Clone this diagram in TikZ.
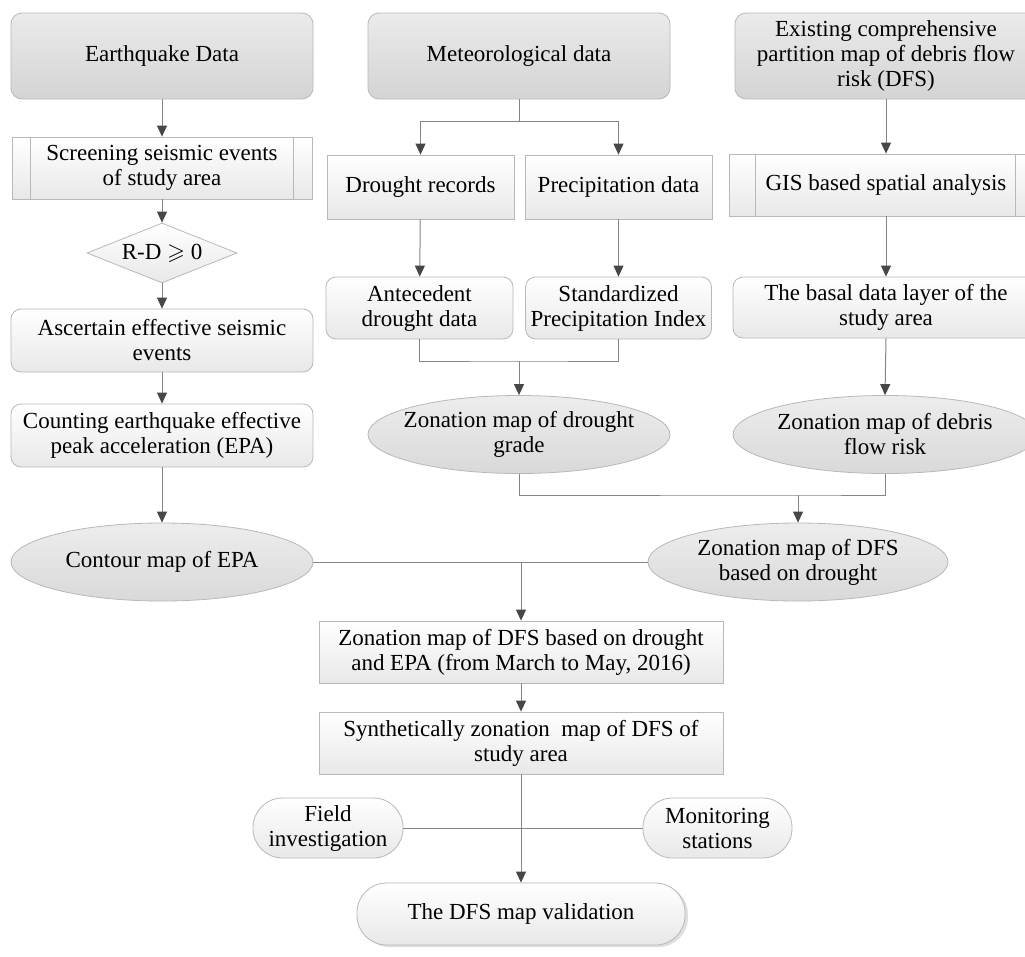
\documentclass[tikz,border=0pt]{standalone}
\usepackage{amsmath, amssymb}
\usepackage{fontspec}
\setmainfont{Liberation Serif}
\usetikzlibrary{arrows.meta, shapes.geometric, shadows}

\begin{document}
\begin{tikzpicture}[x=1pt, y=-1pt,
		every node/.style={font=\fontsize{23}{25}\selectfont, align=center, inner sep=0pt},
		darkbox/.style={draw=black!28, line width=0.8pt, rounded corners=11pt, top color=black!8, bottom color=black!17, minimum width=302pt, minimum height=86pt},
		softbox/.style={draw=black!28, line width=0.8pt, rounded corners=10pt, top color=white, bottom color=black!9, minimum width=302pt, minimum height=63pt},
		plainbox/.style={draw=black!28, line width=0.8pt, top color=white, bottom color=black!9, minimum width=187pt, minimum height=64pt},
		procbox/.style={plainbox, minimum height=62pt},
		decision/.style={diamond, aspect=2.5, draw=black!28, line width=0.8pt, top color=white, bottom color=black!9, minimum width=150pt, minimum height=60pt},
		mapoval/.style={ellipse, draw=black!28, line width=0.8pt, inner xsep=-40pt, top color=black!7, bottom color=black!15, minimum width=302pt, minimum height=78pt},
		pill/.style={draw=black!28, line width=0.8pt, rounded corners=29.5pt, top color=white, bottom color=black!9, minimum height=60pt},
		link/.style={draw=black!48, line width=1pt},
		flow/.style={link, -{Triangle[width=10pt,length=11pt,color=black!72]}}
	]
		% Page
		\useasboundingbox (0,0) rectangle (1025,956);
		\clip (0,0) rectangle (1025,956);
		\fill[white] (0,0) rectangle (1025,956);

		% Earthquake column
		\node[darkbox] (quake) at (162,56) {Earthquake Data};
		\node[procbox, minimum width=300pt] (screen) at (162,168) {Screening seismic events\\of study area};
		\node[decision] (rd) at (162,253) {R-D $\geqslant$ 0};
		\node[softbox] (ascertain) at (162,340.5) {Ascertain effective seismic\\events};
		\node[softbox] (counting) at (162,435.5) {Counting earthquake effective\\peak acceleration (EPA)};
		\node[mapoval] (contour) at (162,562) {Contour map of EPA};

		% Meteorological column
		\node[darkbox] (meteo) at (519,56) {Meteorological data};
		\node[plainbox] (records) at (420.5,187) {Drought records};
		\node[plainbox] (precip) at (618.5,187) {Precipitation data};
		\node[softbox, minimum width=187pt, minimum height=62pt] (antecedent) at (419.5,308) {Antecedent\\drought data};
		\node[softbox, minimum width=186pt, minimum height=62pt] (spi) at (618.5,308) {Standardized\\Precipitation Index};
		\node[mapoval] (grade) at (519,434.5) {Zonation map of drought\\grade};

		% Debris flow column
		\node[darkbox] (existing) at (886,56) {Existing comprehensive\\partition map of debris flow\\risk (DFS)};
		\node[procbox, minimum width=314pt] (gis) at (886,185) {GIS based spatial analysis};
		\node[softbox, minimum width=306pt, minimum height=61pt] (basal) at (886,307.5) {The basal data layer of the\\study area};
		\node[mapoval, minimum width=304pt] (debris) at (885,434.5) {Zonation map of debris\\flow risk};
		\node[mapoval, minimum width=300pt] (dfsdrought) at (798,562) {Zonation map of DFS\\based on drought};

		% Merged maps and validation
		\node[plainbox, minimum width=404pt, minimum height=62pt] (combined) at (521,652) {Zonation map of DFS based on drought\\and EPA (from March to May, 2016)};
		\node[plainbox, minimum width=404pt, minimum height=62pt] (synthetic) at (521,743) {Synthetically zonation\ \ map of DFS of\\study area};
		\node[pill, minimum width=150pt] (field) at (328,828) {Field\\investigation};
		\node[pill, minimum width=149pt] (monitor) at (717.5,828) {Monitoring\\stations};
		\node[pill, minimum width=328pt, minimum height=62pt, drop shadow={shadow xshift=3pt, shadow yshift=-2pt, opacity=0.25}] (validation) at (521,914) {The DFS map validation};

		% Predefined process bars
		\draw[draw=black!28, line width=0.8pt] ([xshift=19pt]screen.north west) -- ([xshift=19pt]screen.south west);
		\draw[draw=black!28, line width=0.8pt] ([xshift=-19pt]screen.north east) -- ([xshift=-19pt]screen.south east);
		\draw[draw=black!28, line width=0.8pt] ([xshift=27pt]gis.north west) -- ([xshift=27pt]gis.south west);
		\draw[draw=black!28, line width=0.8pt] ([xshift=-28pt]gis.north east) -- ([xshift=-28pt]gis.south east);

		% Junctions
		\coordinate (meteojoin) at (519,121);
		\coordinate (gradejoin) at (519,361);
		\coordinate (dfsjoin) at (798,495);
		\coordinate (epajoin) at (521,562);

		% Earthquake connectors
		\draw[flow] (quake) -- (screen);
		\draw[flow] (screen) -- (rd);
		\draw[flow] (rd) -- (ascertain);
		\draw[flow] (ascertain) -- (counting);
		\draw[flow] (counting) -- (contour);

		% Meteorological connectors
		\draw[link] (meteo.south) -- (meteojoin);
		\draw[flow] (meteojoin) -| (records.north);
		\draw[flow] (meteojoin) -| (precip.north);
		\draw[flow] (records) -- (antecedent);
		\draw[flow] (precip) -- (spi);
		\draw[link] (antecedent.south) |- (gradejoin) -| (spi.south);
		\draw[flow] (gradejoin) -- (grade.north);

		% Debris flow connectors
		\draw[flow] (existing.south) -- (gis.north);
		\draw[flow] (gis.south) -- (basal.north);
		\draw[flow] (basal.south) -- (debris.north);
		\draw[link] (grade.south) |- (dfsjoin) -| (debris.south);
		\draw[flow] (dfsjoin) -- (dfsdrought.north);

		% Bottom connectors
		\draw[link] (contour.east) -- (dfsdrought.west);
		\draw[flow] (epajoin) -- (combined.north);
		\draw[flow] (combined) -- (synthetic);
		\draw[link] (field.east) -- (monitor.west);
		\draw[flow] (synthetic) -- (validation);
	\end{tikzpicture}
\end{document}
